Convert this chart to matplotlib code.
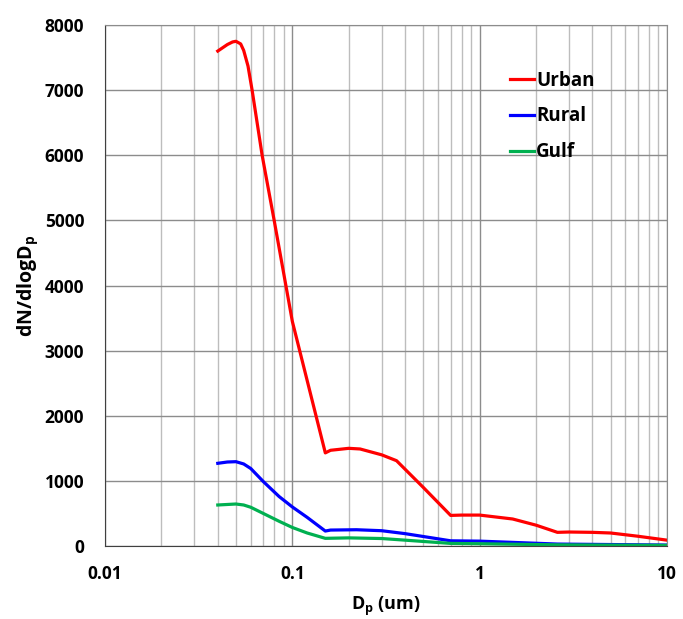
import matplotlib.pyplot as plt
from matplotlib.ticker import LogLocator, FixedLocator

plt.rcParams['font.family'] = ['Open Sans', 'DejaVu Sans']
plt.rcParams['mathtext.default'] = 'regular'

# size distributions
urban_x = [0.04, 0.045, 0.048, 0.05, 0.053, 0.055, 0.058, 0.061, 0.069, 0.08, 0.1, 0.15,
           0.16, 0.2, 0.23, 0.3, 0.36, 0.5, 0.7, 0.8, 1.0, 1.5, 2.0, 2.6, 3.0, 4.0, 5.0, 7.0, 10]
urban_y = [7600, 7700, 7740, 7750, 7710, 7610, 7370, 7000, 6000, 5000, 3450, 1430,
           1470, 1500, 1490, 1400, 1310, 900, 470, 475, 475, 415, 320, 210, 215, 210, 200, 150, 90]

rural_x = [0.04, 0.045, 0.05, 0.055, 0.06, 0.07, 0.085, 0.1, 0.12, 0.15,
           0.16, 0.22, 0.3, 0.4, 0.7, 1.0, 2.6, 10]
rural_y = [1270, 1290, 1295, 1260, 1190, 990, 760, 600, 440, 230,
           245, 250, 235, 190, 80, 75, 30, 15]

gulf_x = [0.04, 0.05, 0.055, 0.06, 0.07, 0.085, 0.1, 0.12, 0.15,
          0.2, 0.3, 0.4, 0.7, 1.0, 2.6, 10]
gulf_y = [630, 645, 630, 595, 500, 380, 285, 200, 118,
          125, 115, 90, 40, 35, 18, 10]

fig = plt.figure(figsize=(6.83, 6.19), dpi=100)
ax = fig.add_axes([0.1537, 0.1179, 0.8229, 0.8417])

ax.plot(urban_x, urban_y, color='#FF0000', lw=2.3, label='Urban', solid_joinstyle='round')
ax.plot(rural_x, rural_y, color='#0000FF', lw=2.3, label='Rural', solid_joinstyle='round')
ax.plot(gulf_x, gulf_y, color='#00B050', lw=2.3, label='Gulf', solid_joinstyle='round')

ax.set_xscale('log')
ax.set_xlim(0.01, 10)
ax.set_ylim(0, 8000)
ax.yaxis.set_major_locator(FixedLocator(range(0, 8001, 1000)))
ax.xaxis.set_major_locator(FixedLocator([0.01, 0.1, 1, 10]))
ax.xaxis.set_minor_locator(LogLocator(base=10, subs=range(2, 10)))
ax.set_xticklabels(['0.01', '0.1', '1', '10'])

ax.grid(True, which='major', color='#8c8c8c', lw=1.0)
ax.grid(True, which='minor', axis='x', color='#bdbdbd', lw=1.0)
ax.set_axisbelow(True)

ax.tick_params(which='both', length=0, labelsize=12.5)
ax.tick_params(axis='y', pad=15)
ax.tick_params(axis='x', pad=14)
for lab in ax.get_xticklabels() + ax.get_yticklabels():
    lab.set_fontweight('bold')

for s in ['left', 'bottom']:
    ax.spines[s].set_color('#404040')
for s in ['top', 'right']:
    ax.spines[s].set_color('#8c8c8c')

ax.set_xlabel('D$_{p}$ (um)', fontsize=13, fontweight='bold', labelpad=8)
ax.set_ylabel('dN/dlogD$_{p}$', fontsize=14, fontweight='bold', labelpad=3)

leg = ax.legend(loc='upper left', bbox_to_anchor=(0.69, 0.945), frameon=False,
                handlelength=1.3, handletextpad=0.1, labelspacing=0.85,
                prop={'size': 13.5, 'weight': 'bold'})

fig.savefig('out.png', dpi=100, facecolor='white')
